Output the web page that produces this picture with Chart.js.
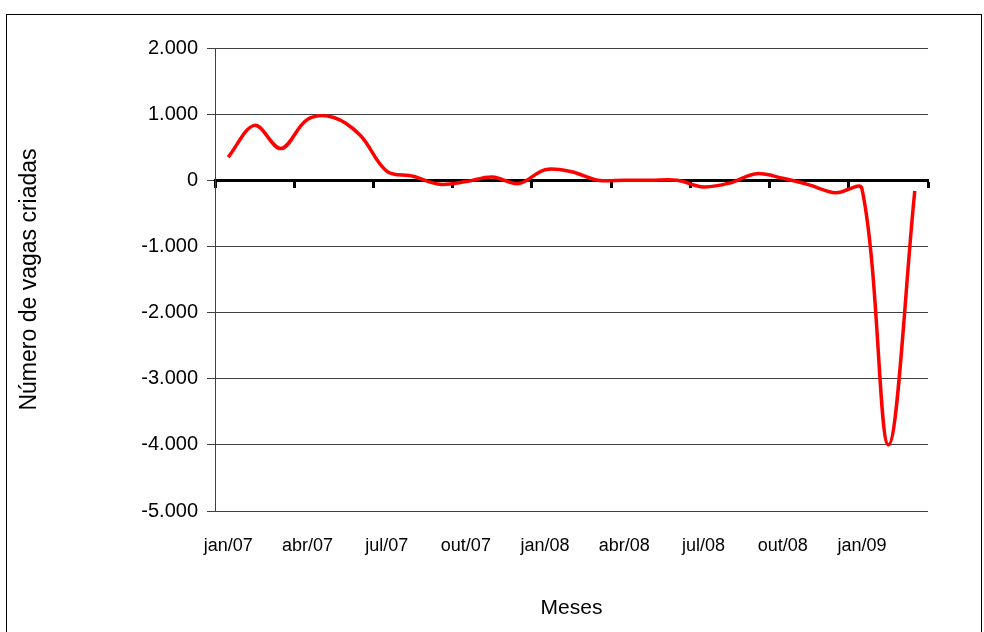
<!DOCTYPE html>
<html>
<head>
<meta charset="utf-8">
<script src="https://cdn.jsdelivr.net/npm/chart.js@4.4.0/dist/chart.umd.min.js"></script>
<style>
  html, body { margin: 0; padding: 0; background: #fff; }
  #wrap { position: relative; width: 984px; height: 632px; overflow: hidden; }
  #frame { position: absolute; left: 6px; top: 14px; width: 976px; height: 700px;
           border: 1px solid #000; box-sizing: border-box; }
  canvas { position: absolute; left: 0; top: 0; }
</style>
</head>
<body>
<div id="wrap">
  <div id="frame"></div>
  <canvas id="chart" width="984" height="632"></canvas>
</div>
<script>
// Meses (jan/07 a mar/09)
const meses = [
  'jan/07', 'fev/07', 'mar/07', 'abr/07', 'mai/07', 'jun/07',
  'jul/07', 'ago/07', 'set/07', 'out/07', 'nov/07', 'dez/07',
  'jan/08', 'fev/08', 'mar/08', 'abr/08', 'mai/08', 'jun/08',
  'jul/08', 'ago/08', 'set/08', 'out/08', 'nov/08', 'dez/08',
  'jan/09', 'fev/09', 'mar/09'
];

// Saldo mensal de vagas criadas
const vagasCriadas = [
  350, 830, 480, 920, 950, 680,
  140, 60, -60, -20, 50, -50,
  160, 130, 0, 0, 0, 0,
  -100, -40, 100, 30, -70, -190,
  -130, -4000, -160
];

// Escala do eixo vertical
const eixoMin = -5000;
const eixoMax = 2000;
const eixoPasso = 1000;

// Um rótulo a cada trimestre
const passoRotulos = 3;

function formatarMilhar(v) {
  const sinal = v < 0 ? '-' : '';
  const s = String(Math.abs(Math.round(v)));
  return sinal + s.replace(/\B(?=(\d{3})+(?!\d))/g, '.');
}

const fonte = 'Liberation Sans, Arial, sans-serif';

new Chart(document.getElementById('chart'), {
  type: 'line',
  data: {
    labels: meses,
    datasets: [{
      data: vagasCriadas,
      borderColor: '#ff0000',
      borderWidth: 3.5,
      pointRadius: 0,
      tension: 0.35,
      fill: false,
      xAxisID: 'x',
      yAxisID: 'y'
    }]
  },
  options: {
    responsive: false,
    animation: false,
    layout: { padding: { top: 48, right: 56, left: 0, bottom: 0 } },
    plugins: { legend: { display: false }, tooltip: { enabled: false } },
    scales: {
      x: {
        type: 'category',
        position: 'bottom',
        offset: true,
        grid: { display: false, drawTicks: false },
        border: { display: false },
        ticks: {
          autoSkip: false,
          maxRotation: 0,
          padding: 24,
          color: '#000',
          font: { family: fonte, size: 18 },
          callback: function (v, i) {
            return i % passoRotulos === 0 ? this.getLabelForValue(v) : '';
          }
        },
        title: {
          display: true,
          text: 'Meses',
          color: '#000',
          font: { family: fonte, size: 21 },
          padding: { top: 0, bottom: 11 }
        },
        afterFit: (s) => { s.height = 121; }
      },
      xZero: {
        type: 'category',
        position: { y: 0 },
        offset: true,
        grid: {
          offset: true,
          drawOnChartArea: false,
          drawTicks: true,
          tickLength: 6,
          tickWidth: 3,
          tickColor: (ctx) => (ctx.type !== 'tick' || ctx.index % passoRotulos === 0) ? '#000' : 'rgba(0,0,0,0)'
        },
        border: { display: true, color: '#000', width: 3 },
        ticks: { display: false }
      },
      y: {
        min: eixoMin,
        max: eixoMax,
        grid: { color: '#404040', lineWidth: 1, tickLength: 8 },
        border: { color: '#404040', width: 1 },
        ticks: {
          stepSize: eixoPasso,
          padding: 9,
          color: '#000',
          font: { family: fonte, size: 20 },
          callback: (v) => formatarMilhar(v)
        },
        title: {
          display: true,
          text: 'Número de vagas criadas',
          color: '#000',
          font: { family: fonte, size: 23 },
          padding: { top: 16, bottom: 0 }
        },
        afterFit: (s) => { s.width = 215; }
      }
    }
  }
});
</script>
</body>
</html>
